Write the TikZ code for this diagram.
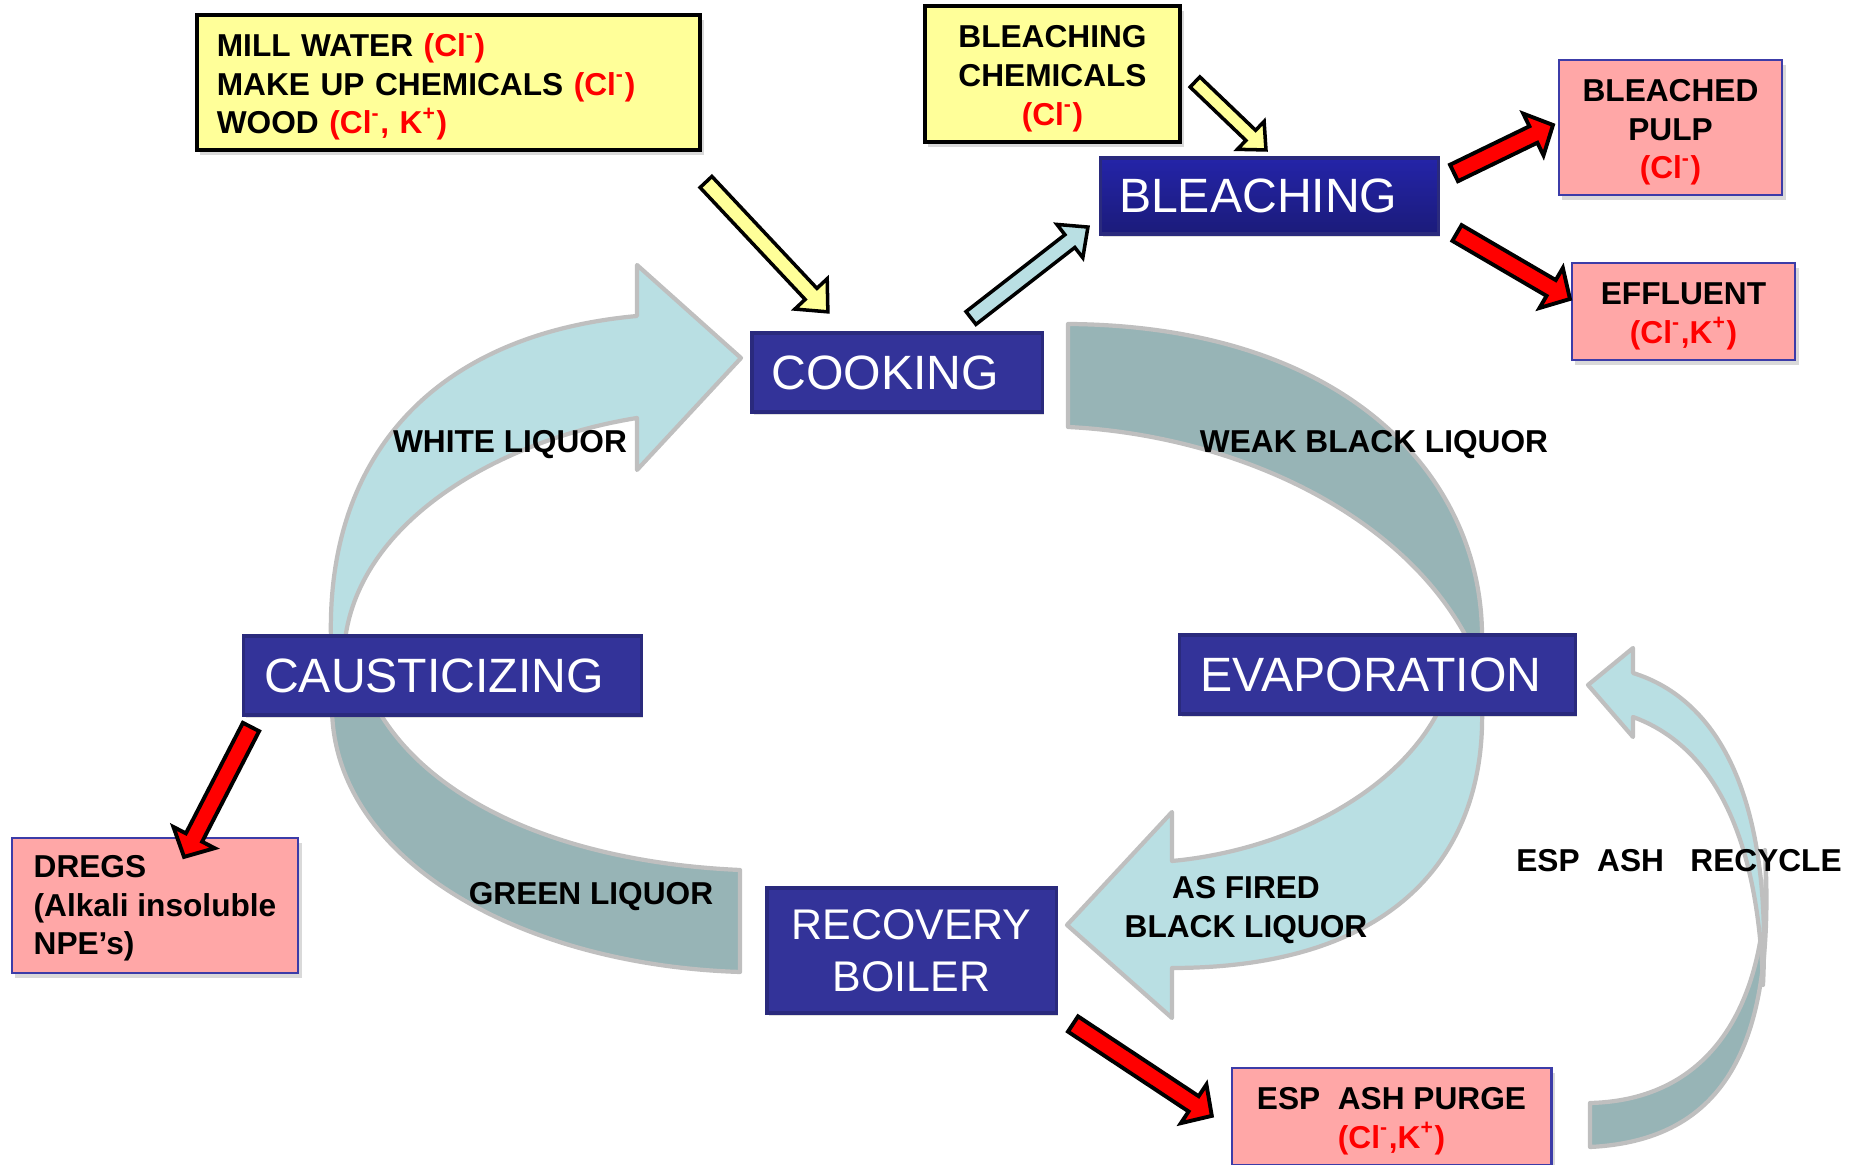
\documentclass[tikz,border=0pt]{standalone}
\usepackage{fontspec}
\setmainfont{Liberation Sans}
\usetikzlibrary{calc,shadows}

\definecolor{procblue}{HTML}{333399}
\definecolor{procedge}{HTML}{2A2A7D}
\definecolor{bleachtop}{HTML}{2424A8}
\definecolor{bleachbot}{HTML}{1B1B7A}
\definecolor{feedyellow}{HTML}{FFFF99}
\definecolor{outpink}{HTML}{FFA7A7}
\definecolor{pinkedge}{HTML}{3C3CA8}
\definecolor{liqlight}{HTML}{B9DFE3}
\definecolor{liqdark}{HTML}{97B4B6}
\definecolor{bandedge}{HTML}{BFBFBF}
\definecolor{ionred}{HTML}{FF0000}

\newcommand{\ionred}[1]{\textcolor{ionred}{#1}}
\newcommand{\chl}{Cl\textsuperscript{-}}
\newcommand{\pot}{K\textsuperscript{+}}
\newcommand{\topstrut}{\rule{0pt}{9pt}}
% block arrow: style, tail, tip, shaft half width, head half width, head length
\newcommand{\fatarrow}[6]{%
  \draw[#1] let \p1=($(#3)-(#2)$), \n1={atan2(\y1,\x1)}, \n2={veclen(\x1,\y1)} in
    [shift={(#2)}, rotate=\n1]
    (0pt,#4) -- (\n2-#6,#4) -- (\n2-#6,#5) -- (\n2,0pt) -- (\n2-#6,-#5)
    -- (\n2-#6,-#4) -- (0pt,-#4) -- cycle;}

\begin{document}
\begin{tikzpicture}[x=0.01cm, y=-0.01cm,
  every node/.style={inner sep=0pt},
  process/.style={draw=procedge, line width=0.9pt, fill=procblue, text=white,
    font=\fontsize{13.7}{15}\selectfont, align=center,
    drop shadow={shadow xshift=0.6pt, shadow yshift=-0.9pt, opacity=0.25}},
  feedbox/.style={draw=black, line width=1.1pt, fill=feedyellow,
    font=\bfseries\fontsize{9}{11}\selectfont,
    drop shadow={shadow xshift=1pt, shadow yshift=-1.5pt, opacity=0.3}},
  outbox/.style={draw=pinkedge, line width=0.8pt, fill=outpink,
    font=\bfseries\fontsize{9}{11}\selectfont, align=center,
    drop shadow={shadow xshift=1pt, shadow yshift=-1.5pt, opacity=0.3}},
  band/.style={draw=bandedge, line width=1.2pt, line join=round},
  flowlabel/.style={font=\bfseries\fontsize{9}{11}\selectfont, align=center},
  yellowarrow/.style={draw=black, line width=1pt, fill=feedyellow},
  redarrow/.style={draw=black, line width=1.1pt, fill=ionred},
  bluearrow/.style={draw=black, line width=1pt, fill=liqlight}]
  \useasboundingbox (0,0) rectangle (1857,1165);

  % liquor cycle
  \draw[band, fill=liqlight] (331,640) .. controls (326,460) and (430,335) .. (637,316)
    -- (637,265) -- (741,358) -- (637,470) -- (637,418)
    .. controls (500,440) and (360,520) .. (345,640) -- cycle;
  \draw[band, fill=liqdark] (1068,324) .. controls (1350,326) and (1484,480) .. (1482,640)
    -- (1468,640) .. controls (1400,510) and (1230,435) .. (1068,427) -- cycle;
  \draw[band, fill=liqlight] (1440,708) .. controls (1400,790) and (1290,850) .. (1172,861)
    -- (1172,812) -- (1067,925) -- (1172,1018) -- (1172,968)
    .. controls (1400,968) and (1486,850) .. (1482,708) -- cycle;
  \draw[band, fill=liqdark] (740,972) .. controls (520,965) and (335,860) .. (332,710)
    -- (378,710) .. controls (430,800) and (560,862) .. (740,870) -- cycle;
  % ash recycle
  \draw[band, fill=liqdark] (1590,1147) .. controls (1735,1140) and (1775,1030) .. (1765,850)
    .. controls (1772,990) and (1720,1100) .. (1590,1103) -- cycle;
  \draw[band, fill=liqlight] (1633,673) .. controls (1720,700) and (1772,800) .. (1763,985)
    .. controls (1758,830) and (1710,745) .. (1633,717)
    -- (1633,737) -- (1588,685) -- (1633,648) -- cycle;

  % inputs
  \node[feedbox, minimum width=5.03cm, minimum height=1.35cm, text width=4.63cm,
    inner xsep=0.2cm, align=left] (feed) at (448.5,82.5)
    {\topstrut MILL WATER \ionred{(\chl)}\\MAKE UP CHEMICALS \ionred{(\chl)}\\WOOD \ionred{(\chl, \pot)}};
  \node[feedbox, minimum width=2.55cm, minimum height=1.36cm, align=center] (chem)
    at (1052.5,74) {\topstrut BLEACHING\\CHEMICALS\\\ionred{(\chl)}};

  % process steps
  \node[process, minimum width=2.90cm, minimum height=0.79cm] (cooking) at (897,372.5)
    {COOKING\hspace{6.8pt}};
  \node[process, top color=bleachtop, bottom color=bleachbot,
    minimum width=3.37cm, minimum height=0.76cm] (bleaching) at (1269.5,196)
    {BLEACHING\hspace{6.4pt}};
  \node[process, minimum width=3.97cm, minimum height=0.79cm] (caust) at (442.5,675.5)
    {CAUSTICIZING\hspace{4.8pt}};
  \node[process, minimum width=3.95cm, minimum height=0.79cm] (evap) at (1377.5,674.5)
    {EVAPORATION\hspace{3.7pt}};
  \node[process, font=\fontsize{12.2}{14.8}\selectfont, minimum width=2.89cm,
    minimum height=1.25cm] (boiler) at (911.5,950.5) {RECOVERY\\BOILER};

  % outputs
  \node[outbox, minimum width=2.23cm, minimum height=1.35cm] (pulp) at (1670.5,127.5)
    {\topstrut BLEACHED\\PULP\\\ionred{(\chl)}};
  \node[outbox, minimum width=2.23cm, minimum height=0.97cm] (effluent) at (1683.5,311.5)
    {\topstrut EFFLUENT\\\ionred{(\chl,\pot)}};
  \node[outbox, minimum width=2.86cm, minimum height=1.35cm, align=left] (dregs) at (155,905.5)
    {\rule{0pt}{8pt}DREGS\\(Alkali insoluble\\NPE’s)};
  \node[outbox, minimum width=3.19cm, minimum height=0.97cm] (purge) at (1391.5,1116.5)
    {\topstrut ESP\ \ ASH PURGE\\\ionred{(\chl,\pot)}};

  % block arrows
  \coordinate (feedtail) at (706,182);
  \coordinate (feedtip) at (828,312);
  \coordinate (chemtail) at (1195,82);
  \coordinate (chemtip) at (1266,150);
  \coordinate (pulpmove) at (971,318);
  \coordinate (pulpin) at (1088,227);
  \coordinate (pulptail) at (1454,173);
  \coordinate (pulptip) at (1553,125);
  \coordinate (efftail) at (1457,233);
  \coordinate (efftip) at (1570,299);
  \coordinate (dregtail) at (251,727);
  \coordinate (dregtip) at (184,857);
  \coordinate (purgetail) at (1073,1024);
  \coordinate (purgetip) at (1212,1116);
  \fatarrow{yellowarrow}{feedtail}{feedtip}{2.3pt}{6.3pt}{7pt}
  \fatarrow{yellowarrow}{chemtail}{chemtip}{2pt}{5.5pt}{6pt}
  \fatarrow{bluearrow}{pulpmove}{pulpin}{2.3pt}{6pt}{6.5pt}
  \fatarrow{redarrow}{pulptail}{pulptip}{2.6pt}{6.6pt}{6.2pt}
  \fatarrow{redarrow}{efftail}{efftip}{2.6pt}{6.6pt}{6.2pt}
  \fatarrow{redarrow}{dregtail}{dregtip}{2.6pt}{6.6pt}{6.2pt}
  \fatarrow{redarrow}{purgetail}{purgetip}{2.6pt}{6.6pt}{6.2pt}

  % liquor labels
  \node[flowlabel] (white) at (510,445) {WHITE LIQUOR};
  \node[flowlabel] (weak) at (1374,445) {WEAK BLACK LIQUOR};
  \node[flowlabel] (green) at (591,897) {GREEN LIQUOR};
  \node[flowlabel] (fired) at (1246,910) {AS FIRED\\BLACK LIQUOR};
  \node[flowlabel] (recycle) at (1679,861) {ESP\ \ ASH\ \ \ RECYCLE};
\end{tikzpicture}
\end{document}
